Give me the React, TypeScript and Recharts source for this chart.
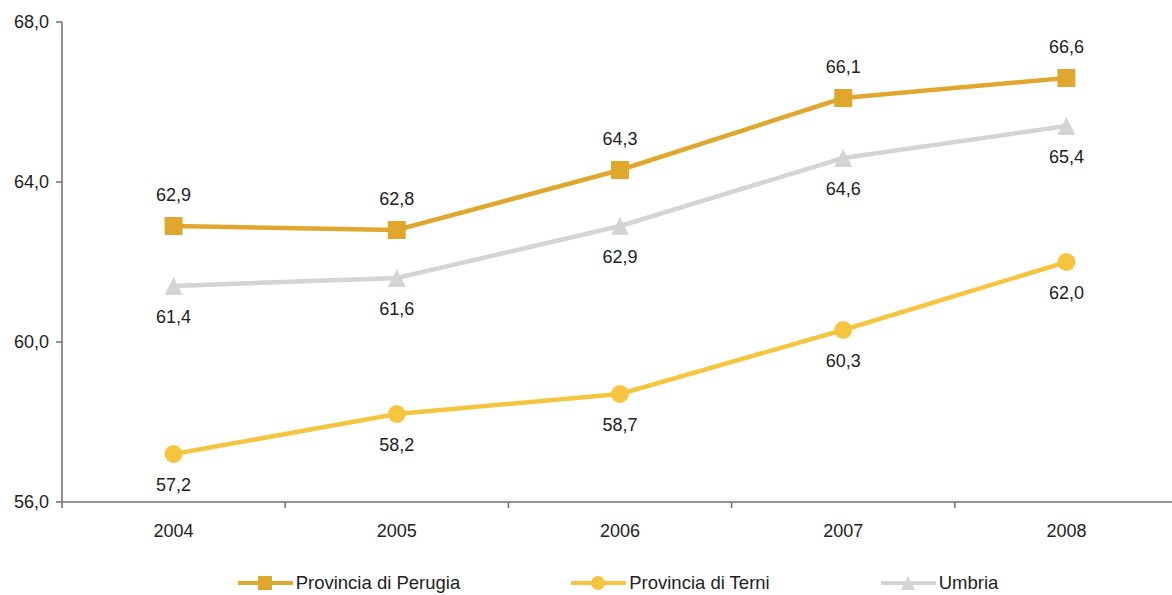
import { LineChart, Line, XAxis, YAxis, Legend, LabelList } from 'recharts'

// Tasso di occupazione 2004-2008
const years = ['2004', '2005', '2006', '2007', '2008']
const perugia = [62.9, 62.8, 64.3, 66.1, 66.6]
const terni = [57.2, 58.2, 58.7, 60.3, 62.0]
const umbria = [61.4, 61.6, 62.9, 64.6, 65.4]
const yTicks = [56, 60, 64, 68]

const data = years.map((year, i) => ({
  year,
  perugia: perugia[i],
  terni: terni[i],
  umbria: umbria[i]
}))

// the plot runs a little past the right edge of the page, as in the original
const PAGE_W = 1172
const PAGE_H = 595
const OFFSET = 8
const CHART_W = 1170
const CHART_H = 587
const Y_AXIS_W = 54
const PLOT_TOP = 14
const PLOT_BOTTOM = 494
const HALF_BAND = (CHART_W - Y_AXIS_W) / years.length / 2

const FONT = '"Liberation Sans", Arial, sans-serif'
const TEXT = '#222222'
const AXIS = '#6e6e6e'

const COLORS = {
  perugia: '#e0a72e',
  terni: '#f6c540',
  umbria: '#d4d4d4'
}

const series = [
  { key: 'perugia', name: 'Provincia di Perugia', color: COLORS.perugia, shape: 'square', above: true },
  { key: 'terni', name: 'Provincia di Terni', color: COLORS.terni, shape: 'circle', above: false },
  { key: 'umbria', name: 'Umbria', color: COLORS.umbria, shape: 'triangle', above: false }
] as const

const fmt = (v: number) => v.toFixed(1).replace('.', ',')

const Marker = ({ shape, cx, cy, color, size = 18 }: { shape: string; cx: number; cy: number; color: string; size?: number }) => {
  const h = size / 2
  if (shape === 'square') {
    return <rect x={cx - h} y={cy - h} width={size} height={size} fill={color} />
  }
  if (shape === 'circle') {
    return <circle cx={cx} cy={cy} r={h} fill={color} />
  }
  return (
    <polygon
      points={`${cx},${cy - h} ${cx + h},${cy + h} ${cx - h},${cy + h}`}
      fill={color}
    />
  )
}

const makeDot = (shape: string, color: string) => (props: any) => {
  const { cx, cy, index } = props
  if (cx == null || cy == null) return <g key={index} />
  return <Marker key={`${shape}-${index}`} shape={shape} cx={cx} cy={cy} color={color} />
}

const makeLabel = (above: boolean) => (props: any) => {
  const { x, y, value, index } = props
  return (
    <text
      key={index}
      x={x}
      y={y + (above ? -31 : 31)}
      textAnchor="middle"
      dominantBaseline="central"
      fontFamily={FONT}
      fontSize={18}
      fill={TEXT}
    >
      {fmt(value)}
    </text>
  )
}

const XTick = (props: any) => {
  const { x, payload } = props
  return (
    <g>
      <line x1={x - HALF_BAND} x2={x - HALF_BAND} y1={PLOT_BOTTOM} y2={PLOT_BOTTOM + 6} stroke={AXIS} strokeWidth={1.5} />
      <text
        x={x}
        y={PLOT_BOTTOM + 29}
        textAnchor="middle"
        dominantBaseline="central"
        fontFamily={FONT}
        fontSize={18}
        fill={TEXT}
      >
        {payload.value}
      </text>
    </g>
  )
}

const LegendContent = () => (
  <div
    style={{
      display: 'flex',
      justifyContent: 'center',
      alignItems: 'center',
      gap: 110,
      height: 24,
      paddingLeft: 49,
      fontFamily: FONT,
      fontSize: 18.5,
      color: TEXT
    }}
  >
    {series.map(s => (
      <div key={s.key} style={{ display: 'flex', alignItems: 'center' }}>
        <svg width={57} height={20} style={{ marginRight: 2 }}>
          <line x1={1} x2={56} y1={10} y2={10} stroke={s.color} strokeWidth={4} />
          <Marker shape={s.shape} cx={28} cy={10} color={s.color} size={14} />
        </svg>
        <span>{s.name}</span>
      </div>
    ))}
  </div>
)

export default function App() {
  return (
    <div
      style={{
        width: PAGE_W,
        height: PAGE_H,
        boxSizing: 'border-box',
        paddingLeft: OFFSET,
        paddingTop: OFFSET,
        overflow: 'hidden',
        background: '#fff'
      }}
    >
      <style>{'body { margin: 0; }'}</style>
      <LineChart
        width={CHART_W}
        height={CHART_H}
        data={data}
        margin={{ top: PLOT_TOP, right: 0, left: 0, bottom: 0 }}
      >
        <XAxis
          dataKey="year"
          padding={{ left: HALF_BAND, right: HALF_BAND }}
          height={69}
          axisLine={{ stroke: AXIS, strokeWidth: 1.5 }}
          tickLine={false}
          tick={<XTick />}
          interval={0}
        />
        <YAxis
          domain={[56, 68]}
          ticks={yTicks}
          width={Y_AXIS_W}
          tickFormatter={fmt}
          tickSize={6}
          tickMargin={7}
          axisLine={{ stroke: AXIS, strokeWidth: 1.5 }}
          tickLine={{ stroke: AXIS, strokeWidth: 1.5 }}
          tick={{ fontFamily: FONT, fontSize: 18, fill: TEXT }}
        />
        <Legend verticalAlign="bottom" content={<LegendContent />} />
        {series.map(s => (
          <Line
            key={s.key}
            dataKey={s.key}
            name={s.name}
            type="linear"
            stroke={s.color}
            strokeWidth={4.5}
            dot={makeDot(s.shape, s.color)}
            activeDot={false}
            isAnimationActive={false}
          >
            <LabelList dataKey={s.key} content={makeLabel(s.above)} />
          </Line>
        ))}
      </LineChart>
    </div>
  )
}
